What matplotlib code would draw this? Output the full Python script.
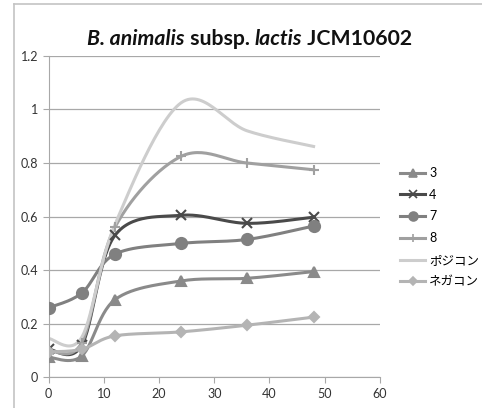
import numpy as np
import matplotlib.pyplot as plt
from matplotlib.lines import Line2D

plt.rcParams['font.family'] = ['Lato', 'Noto Sans CJK JP', 'DejaVu Sans']

# Dados (tempo em horas)
tempo = [0, 6, 12, 24, 36, 48]
nomes = ['3', '4', '7', '8', 'ポジコン', 'ネガコン']
s3 = [0.075, 0.08, 0.29, 0.36, 0.37, 0.395]
s4 = [0.105, 0.12, 0.53, 0.605, 0.575, 0.598]
s7 = [0.26, 0.315, 0.46, 0.50, 0.515, 0.565]
s8 = [0.10, 0.13, 0.56, 0.825, 0.80, 0.775]
posi = [0.145, 0.15, 0.57, 1.025, 0.92, 0.862]
nega = [0.095, 0.105, 0.155, 0.17, 0.195, 0.225]
series = [s3, s4, s7, s8, posi, nega]

cores = ['#8a8a8a', '#4a4a4a', '#808080', '#a0a0a0', '#cdcdcd', '#b4b4b4']
marcadores = ['^', 'x', 'o', '+', None, 'D']
tamanhos = [7, 7, 8, 7, 0, 5]


# Linha suavizada (estilo Excel)
def suavizar(x, y, n=30):
    pts = np.column_stack([x, y]).astype(float)
    p = np.vstack([pts[0], pts, pts[-1]])
    out = []
    t = np.linspace(0, 1, n)[:, None]
    for i in range(1, len(p) - 2):
        p0, p1, p2, p3 = p[i - 1], p[i], p[i + 1], p[i + 2]
        c1 = p1 + (p2 - p0) / 6
        c2 = p2 - (p3 - p1) / 6
        seg = ((1 - t) ** 3) * p1 + 3 * ((1 - t) ** 2) * t * c1 + 3 * (1 - t) * t ** 2 * c2 + t ** 3 * p2
        out.append(seg)
    out = np.vstack(out)
    return out[:, 0], out[:, 1]


fig = plt.figure(figsize=(4.82, 4.08), dpi=100)
# moldura do gráfico (recortada)
fig.lines.append(Line2D([13.5 / 482, 13.5 / 482], [0, 1 - 4 / 408], transform=fig.transFigure,
                        color='#c4c4c4', linewidth=1.2))
fig.lines.append(Line2D([13.5 / 482, 1], [1 - 4 / 408, 1 - 4 / 408], transform=fig.transFigure,
                        color='#c4c4c4', linewidth=1.2))
ax = fig.add_axes([0.101, 0.075, 0.687, 0.788])

for y, nome, cor, m, ms in zip(series, nomes, cores, marcadores, tamanhos):
    xs, ys = suavizar(tempo, y)
    ax.plot(xs, ys, color=cor, linewidth=2.2, zorder=2)
    ax.plot(tempo, y, linestyle='none', marker=m, markersize=ms, color=cor,
            markeredgewidth=1.5, zorder=3)
    ax.plot([], [], color=cor, linewidth=2.2, marker=m, markersize=ms * 0.8, markeredgewidth=1.2, label=nome)

ax.set_xlim(0, 60)
ax.set_ylim(0, 1.2)
ax.set_xticks(range(0, 61, 10))
ax.set_yticks([0, 0.2, 0.4, 0.6, 0.8, 1.0, 1.2])
ax.set_yticklabels(['0', '0.2', '0.4', '0.6', '0.8', '1', '1.2'])
ax.grid(axis='y', color='#a8a8a8', linewidth=0.9)
for lado in ['top', 'right']:
    ax.spines[lado].set_visible(False)
for lado in ['left', 'bottom']:
    ax.spines[lado].set_color('#a8a8a8')
ax.tick_params(colors='#a8a8a8', labelcolor='#333333', labelsize=9, direction='out', length=4)

# título com partes em itálico
r = fig.canvas.get_renderer()
partes = [('B. animalis', 'italic'), (' subsp. ', 'normal'), ('lactis', 'italic'), (' JCM10602', 'normal')]
textos = []
largura = 0
for txt, estilo in partes:
    tt = fig.text(0, 0.905, txt, fontsize=15.3, fontweight='bold', style=estilo, va='center', color='#111111')
    largura += tt.get_window_extent(r).width
    textos.append(tt)
x = 250 - largura / 2
for tt in textos:
    tt.set_x(x / fig.bbox.width)
    x += tt.get_window_extent(r).width

ax.legend(loc='center left', bbox_to_anchor=(1.047, 0.467), frameon=False, fontsize=9,
          handlelength=2.0, labelspacing=0.78, handletextpad=0.3, borderaxespad=0)

plt.savefig('out.png', dpi=100)
